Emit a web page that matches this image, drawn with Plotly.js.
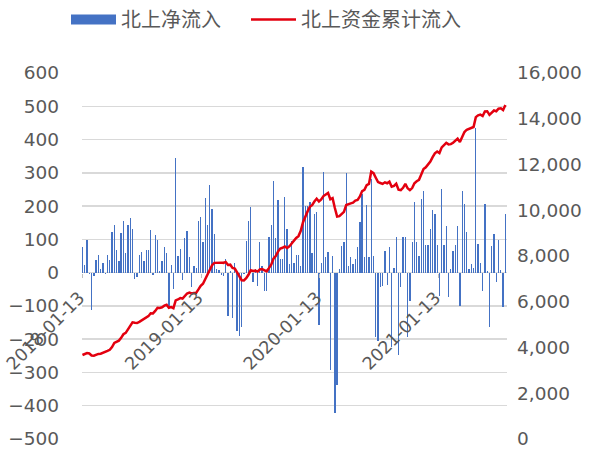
<!DOCTYPE html>
<html>
<head>
<meta charset="utf-8">
<script src="https://cdn.plot.ly/plotly-3.0.1.min.js"></script>
<style>html,body{margin:0;padding:0;background:#fff;}#chart{width:592px;height:450px;}</style>
</head>
<body>
<div id="chart"></div>
<script>
// Weekly data, starting week
const startDate = [2018, 0, 13];

// 北上净流入 (weekly, 亿元) – left axis
const netFlow = [
  78, 24, 98, -3, -112, -9, 38, 53, 11, 30,
  -5, 53, 38, 123, 142, 68, 34, 119, 156, 60,
  142, 164, 130, -20, -12, 53, 63, 34, 68, 68,
  128, -8, 113, 98, 5, 34, 78, 60, -105, 24,
  -49, 344, 50, 72, -22, 104, 126, 46, -42, 21,
  13, 154, 168, 93, 224, 144, 262, 192, 116, 11,
  8, -8, -10, 41, -129, 6, -135, 30, -174, -189,
  -164, -5, 94, 154, 196, -29, 12, -40, 91, 20,
  -54, -54, 108, 142, 276, 104, 218, 42, 40, 228,
  131, 25, 96, 30, 52, 54, 20, 318, 201, 201,
  211, 60, 176, 181, -157, 30, 301, 46, 61, -294,
  51, -422, -339, 10, 81, 91, 299, 21, 46, 26,
  41, 76, 151, 236, 46, 203, 46, 281, 50, -194,
  -204, -44, -40, 66, -36, 76, -224, 15, 106, -249,
  -42, 108, 108, -194, -84, 91, 213, 91, 51, 221,
  246, 84, 84, 131, 188, 176, 84, -69, 251, 84,
  141, -74, 10, 64, 84, 141, -99, 244, 206, 121,
  10, 26, 15, 436, 86, 28, -54, 206, 5, -162,
  81, 116, -29, 98, 8, -104, 176
];

// 北上资金累计流入 (亿元) – right axis
const cumFlow = [
  3672, 3700, 3760, 3740, 3650, 3640, 3690, 3720, 3730, 3760, 3800,
  3850, 3900, 4020, 4197, 4260, 4300, 4420, 4580, 4640, 4780, 4950, 5100,
  5080, 5070, 5120, 5190, 5230, 5300, 5370, 5500, 5490, 5600, 5740,
  5730, 5760, 5830, 5870, 5740, 5770, 5720, 6060,
  6100, 6160, 6140, 6240, 6360, 6400, 6360,
  6380, 6390, 6540, 6700, 6790,
  7010, 7150, 7410, 7600, 7700,
  7710, 7720, 7710, 7700, 7740, 7610,
  7620, 7480, 7450, 7280, 7100, 6940,
  6930, 7030, 7180, 7380, 7350, 7360,
  7320, 7410, 7430, 7380, 7330,
  7470, 7620, 7880, 8000, 8190, 8330, 8360, 8420,
  8350, 8420, 8550, 8680, 8790, 8870, 9100, 9480, 9760, 9950, 10150, 10220,
  10380, 10500, 10380, 10470, 10620, 10680, 10760, 10480, 10530, 10100, 9720,
  9740, 9830, 9930, 10230, 10250, 10300, 10330, 10420,
  10450, 10600, 10840, 10890, 11100, 11150, 11690,
  11620, 11420, 11230, 11190, 11150, 11220, 11180, 11250, 11030, 11060, 11160, 10900, 10880, 10980,
  11150, 10960, 10880, 10970, 11180, 11270, 11330, 11560, 11800, 11880, 12000,
  12130, 12320, 12490, 12570, 12500, 12750, 12830, 12950, 12880, 12890, 12950, 13040,
  13130, 12980, 13240, 13420, 13520, 13560, 13600, 13640,
  14070, 14150, 14180, 14120, 14320, 14330, 14170, 14250, 14360, 14330, 14440, 14460, 14380, 14600
];

const tickDates = ['2018-01-13', '2019-01-13', '2020-01-13', '2021-01-13'];
const tickLabels = ['2018-01-13', '2019-01-13', '2020-01-13', '2021-01-13'];
const seriesNames = ['北上净流入', '北上资金累计流入'];

const n = Math.max(netFlow.length, cumFlow.length);
const dates = [];
for (let i = 0; i < n; i++) {
  const d = new Date(Date.UTC(startDate[0], startDate[1], startDate[2] + 7 * i));
  dates.push(d.toISOString().slice(0, 10));
}

const tickFont = {family: 'DejaVu Sans, sans-serif', size: 18.5, color: '#595959'};
const xTickFont = {family: 'DejaVu Sans, sans-serif', size: 17.5, color: '#595959'};
const DAY = 86400000;
const BLUE = '#4472C4', RED = '#E3000F';

const traces = [
  {
    type: 'bar', name: seriesNames[0], showlegend: false, legendgroup: 'a',
    x: dates.slice(0, netFlow.length), y: netFlow,
    width: 4 * DAY,
    marker: {color: BLUE, line: {width: 0}},
    yaxis: 'y', hoverinfo: 'skip'
  },
  // legend key for the bars (wide block, as in the original)
  {
    type: 'scatter', mode: 'lines', name: seriesNames[0] + '\u3000', legendgroup: 'a',
    x: [null], y: [null],
    line: {color: BLUE, width: 10},
    yaxis: 'y', hoverinfo: 'skip'
  },
  {
    type: 'scatter', mode: 'lines', name: seriesNames[1],
    x: dates.slice(0, cumFlow.length), y: cumFlow,
    line: {color: RED, width: 2.5},
    yaxis: 'y2', hoverinfo: 'skip'
  }
];

const layout = {
  width: 592, height: 450,
  margin: {l: 82, r: 85, t: 73, b: 11, pad: 0},
  paper_bgcolor: '#fff', plot_bgcolor: '#fff',
  bargap: 0,
  showlegend: true,
  legend: {
    orientation: 'h', xref: 'container', x: 66 / 592, xanchor: 'left',
    yref: 'container', y: 1, yanchor: 'top',
    font: {family: 'Noto Sans CJK SC, sans-serif', size: 20, color: '#595959'},
    itemwidth: 45, bgcolor: 'rgba(0,0,0,0)'
  },
  xaxis: {
    type: 'date',
    range: ['2018-01-11 12:00', '2021-08-12'],
    anchor: 'free', position: 5 / 11,
    tickmode: 'array', tickvals: tickDates, ticktext: tickLabels,
    tickangle: -45, tickfont: xTickFont,
    ticklabelshift: -3, ticklabelstandoff: 3, ticklabeloverflow: 'allow',
    ticks: 'outside', ticklen: 4, tickcolor: '#bfbfbf',
    showgrid: false, showline: false, zeroline: false
  },
  yaxis: {
    range: [-500, 600], tick0: 0, dtick: 100,
    tickfont: tickFont, ticklabelstandoff: 22,
    showgrid: true, gridcolor: '#d9d9d9', gridwidth: 1.5,
    zeroline: true, zerolinecolor: '#d9d9d9', zerolinewidth: 1.5,
    showline: false, ticks: ''
  },
  yaxis2: {
    overlaying: 'y', side: 'right',
    range: [0, 16000], tick0: 0, dtick: 2000, tickformat: ',',
    tickfont: tickFont, ticklabelstandoff: 9,
    showgrid: false, zeroline: false, showline: false, ticks: ''
  }
};

Plotly.newPlot('chart', traces, layout, {staticPlot: true, displayModeBar: false});
</script>
</body>
</html>
